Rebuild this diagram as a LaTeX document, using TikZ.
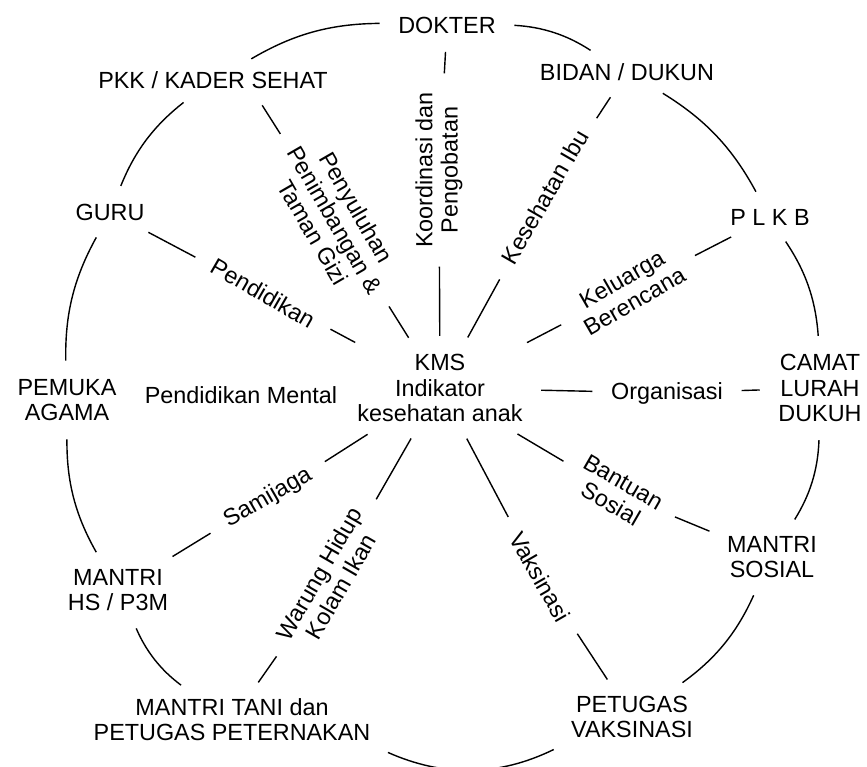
\documentclass[tikz,border=0pt]{standalone}
\usepackage{fontspec}
\setmainfont{Liberation Sans}
\tikzset{every node/.style={font=\fontsize{13.3}{14.3}\selectfont, align=center},
    spoke/.style={line width=0.8pt, shorten <=2.5mm, shorten >=2.5mm},
    ring/.style={line width=0.8pt, shorten <=2.5mm, shorten >=2.5mm}}

\begin{document}
\begin{tikzpicture}
        \useasboundingbox (0,0) rectangle (17.34,15.34);
        % the partners round the ring
        \node (dokter) at (8.94,14.84) {DOKTER};
        \node (bidan) at (12.54,13.9) {BIDAN / DUKUN};
        \node (plkb) at (15.4,11.0) {P L K B};
        \node (camat) at (16.4,7.58) {CAMAT\\LURAH\\DUKUH};
        \node (msosial) at (15.44,4.2) {MANTRI\\SOSIAL};
        \node (petvak) at (12.64,1.0) {PETUGAS\\VAKSINASI};
        \node (mtani) at (4.64,0.94) {MANTRI TANI dan\\PETUGAS PETERNAKAN};
        \node (mhs) at (2.36,3.54) {MANTRI\\HS / P3M};
        \node (pemuka) at (1.34,7.34) {PEMUKA\\AGAMA};
        \node (guru) at (2.2,11.1) {GURU};
        \node (pkk) at (4.26,13.74) {PKK / KADER SEHAT};
        % centre
        \node (kms) at (8.8,7.58) {KMS\\Indikator\\kesehatan anak};
        % what each partner brings
        \node[rotate=90] (koord) at (8.78,11.94) {Koordinasi dan\\Pengobatan};
        \node[rotate=-60] (penyuluhan) at (6.7,10.94) {Penyuluhan\\Penimbangan \&\\Taman Gizi};
        \node[rotate=-30] (pendidikan) at (5.26,9.48) {Pendidikan};
        \node (mental) at (4.82,7.44) {Pendidikan Mental};
        \node[rotate=30] (samijaga) at (5.36,5.38) {Samijaga};
        \node[rotate=60] (warung) at (6.6,3.74) {Warung Hidup\\Kolam Ikan};
        \node[rotate=-60] (vaksin) at (10.8,3.8) {Vaksinasi};
        \node[rotate=-30] (bantuan) at (12.34,5.48) {Bantuan\\Sosial};
        \node (organisasi) at (13.34,7.48) {Organisasi};
        \node[rotate=30] (keluarga) at (12.56,9.54) {Keluarga\\Berencana};
        \node[rotate=60] (kesibu) at (10.9,11.4) {Kesehatan Ibu};
        % spokes
        \draw[spoke] (kms) -- (koord);
        \draw[spoke] (koord) -- (dokter);
        \draw[spoke] (kms) -- (penyuluhan);
        \draw[spoke] (penyuluhan) -- ([xshift=8.5mm]pkk.south);
        \draw[spoke] (kms) -- (pendidikan);
        \draw[spoke] (pendidikan) -- (guru);
        \draw[spoke] (kms) -- (samijaga);
        \draw[spoke] (samijaga) -- (mhs);
        \draw[spoke] (kms) -- (warung);
        \draw[spoke] (warung) -- (mtani);
        \draw[spoke] (kms) -- (vaksin);
        \draw[spoke] (vaksin) -- (petvak);
        \draw[spoke] (kms) -- (bantuan);
        \draw[spoke] (bantuan) -- (msosial);
        \draw[spoke] (kms) -- (organisasi);
        \draw[spoke] (organisasi) -- (camat);
        \draw[spoke] (kms) -- (keluarga);
        \draw[spoke] (keluarga) -- (plkb);
        \draw[spoke] (kms) -- (kesibu);
        \draw[spoke] (kesibu) -- (bidan);
        % ring
        \draw[ring] (dokter) to[bend right=15] (pkk);
        \draw[ring] (pkk) to[bend right=15] (guru);
        \draw[ring] (guru) to[bend right=15] (pemuka);
        \draw[ring] (pemuka) to[bend right=15] (mhs);
        \draw[ring] (mhs) to[bend right=15] (mtani);
        \draw[ring] (mtani.south east) to[bend right=25] (petvak.south west);
        \draw[ring] (petvak) to[bend right=15] (msosial);
        \draw[ring] (msosial) to[bend right=15] (camat);
        \draw[ring] (camat) to[bend right=15] (plkb);
        \draw[ring] (plkb) to[bend right=15] (bidan);
        \draw[ring] (bidan) to[bend right=15] (dokter);
    \end{tikzpicture}
\end{document}
